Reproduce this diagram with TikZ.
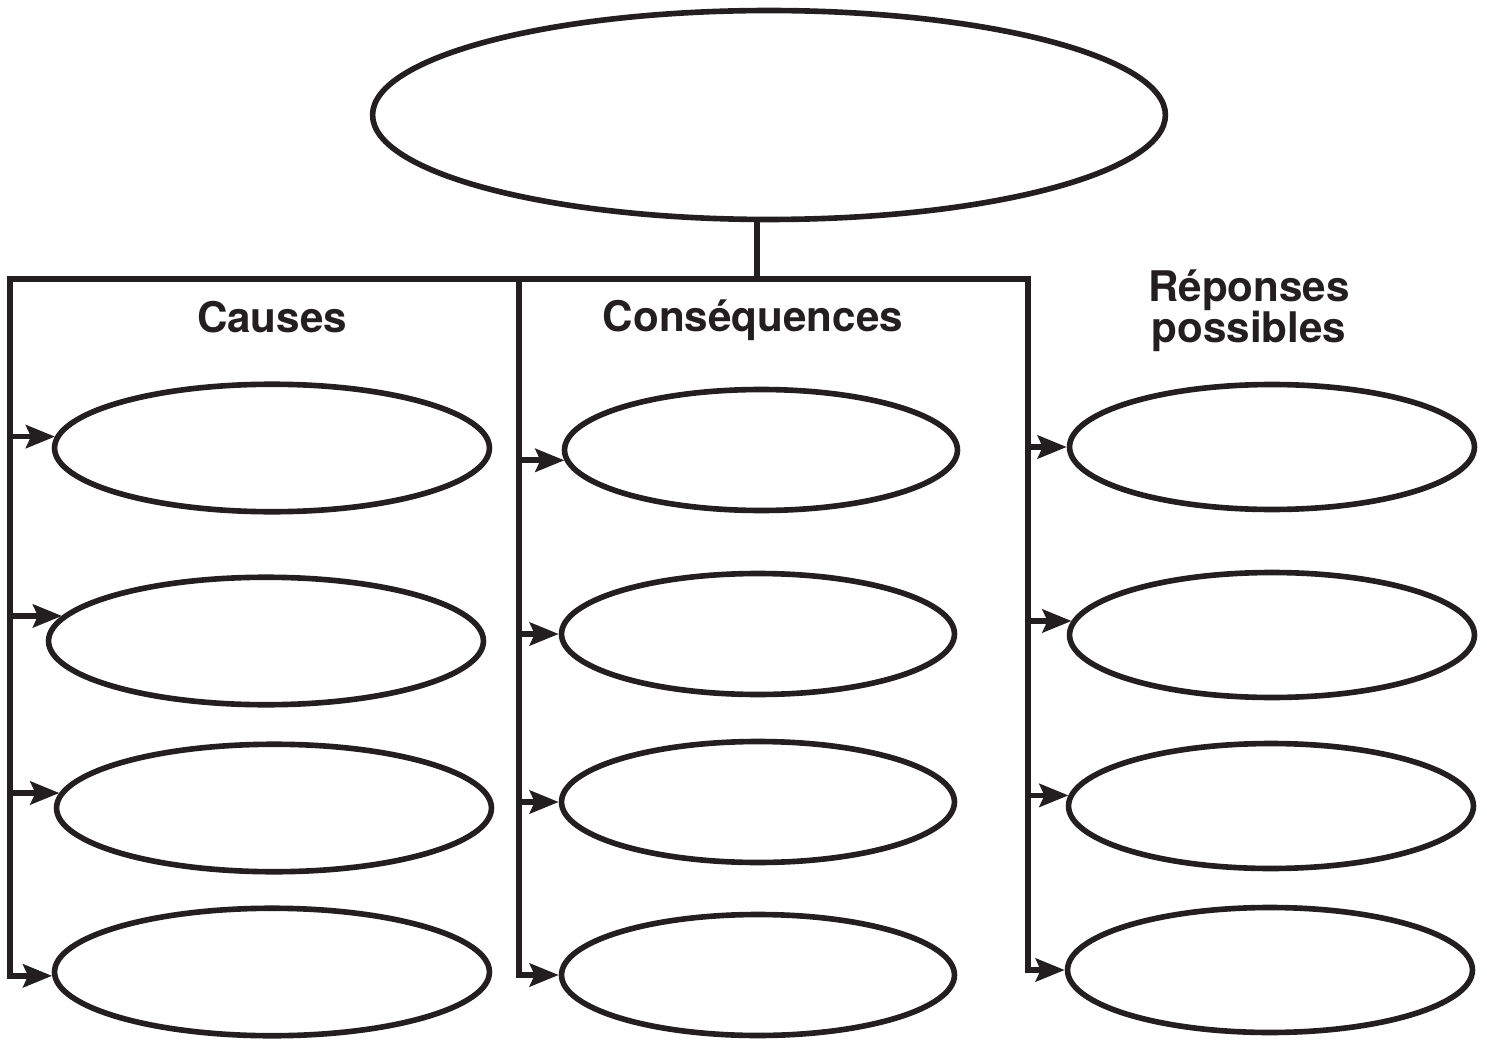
\documentclass[tikz,border=0pt]{standalone}
\usepackage{fontspec}
\setmainfont{TeX Gyre Heros}
\usetikzlibrary{arrows.meta,shapes.geometric}
\definecolor{ink}{HTML}{231F20}

\begin{document}
\begin{tikzpicture}[x=0.02cm, y=-0.02cm, line width=3.2pt, ink,
	oval/.style={draw, ellipse, inner sep=0pt},
	causeoval/.style={oval, minimum width=8.7cm, minimum height=2.55cm},
	consoval/.style={oval, minimum width=7.86cm, minimum height=2.42cm},
	respoval/.style={oval, minimum width=8.1cm, minimum height=2.5cm},
	arr/.style={-{Stealth[length=0.58cm, width=0.46cm, inset=0.1cm]}},
	title/.style={font=\fontsize{24}{23.5}\selectfont\bfseries, anchor=base}]
	\useasboundingbox (0,0) rectangle (1487,1040);

	%ellipses
	\node[oval, minimum width=15.86cm, minimum height=4.18cm] (theme) at (769,115) {};

	\node[causeoval] (cause1) at (272,448) {};
	\node[causeoval] (cause2) at (266,641) {};
	\node[causeoval] (cause3) at (274,808) {};
	\node[causeoval] (cause4) at (272,972) {};

	\node[consoval] (cons1) at (761,450) {};
	\node[consoval] (cons2) at (758,634) {};
	\node[consoval] (cons3) at (758,802) {};
	\node[consoval] (cons4) at (758,975) {};

	\node[respoval] (resp1) at (1272,447) {};
	\node[respoval] (resp2) at (1272,635) {};
	\node[respoval] (resp3) at (1271,806) {};
	\node[respoval] (resp4) at (1270,970) {};

	%titles
	\node[title] (causes) at (272,333) {Causes};
	\node[title] (conseq) at (753,332) {Conséquences};
	\node[title, align=center] (reponses) at (1249,343) {Réponses\\possibles};

	%lines
	\coordinate (left) at (10,279);
	\coordinate (mid) at (519,279);
	\coordinate (right) at (1028,279);
	\coordinate (stem) at (757,279);
	\draw (stem) -- (stem |- theme.south);
	\draw[arr] (mid) -- (left) |- (cause4.181);
	\draw[arr] (mid) -- (right) |- (resp4.180);
	\draw[arr] (mid) |- (cons4.180);

	\draw[arr] (cause1.177 -| left) -- (cause1.177);
	\draw[arr] (cause2.173 -| left) -- (cause2.173);
	\draw[arr] (cause3.176 -| left) -- (cause3.176);

	\draw[arr] (cons1.183.5 -| mid) -- (cons1.183.5);
	\draw[arr] (cons2.180 -| mid) -- (cons2.180);
	\draw[arr] (cons3.180 -| mid) -- (cons3.180);

	\draw[arr] (resp1.180 -| right) -- (resp1.180);
	\draw[arr] (resp2.176 -| right) -- (resp2.176);
	\draw[arr] (resp3.177.5 -| right) -- (resp3.177.5);
\end{tikzpicture}
\end{document}
